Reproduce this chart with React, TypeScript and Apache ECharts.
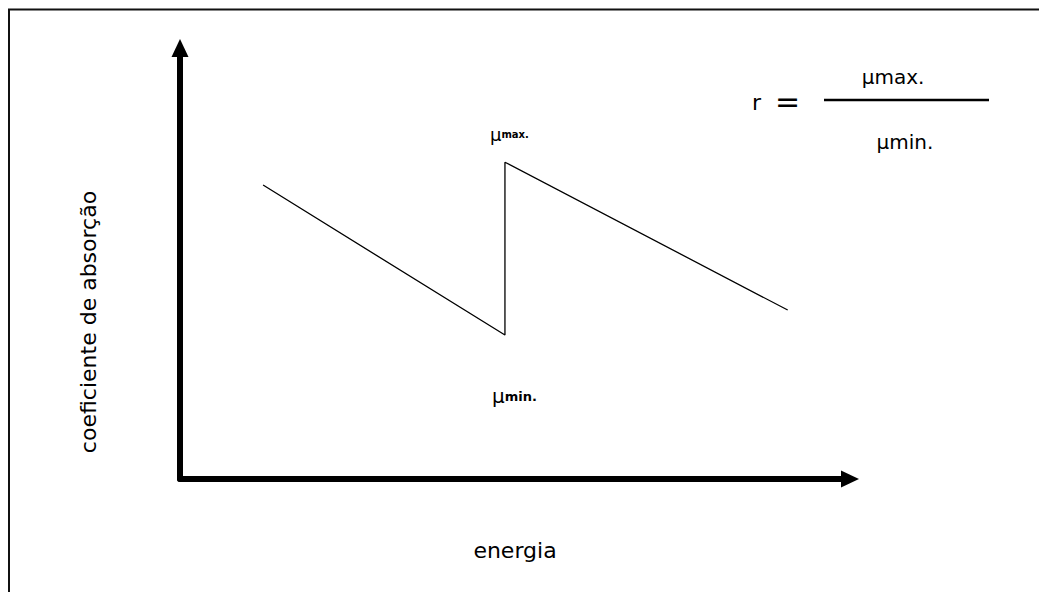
import React, { useEffect, useRef } from "react";
import * as echarts from "echarts";

// Data (axis units 0..100, no tick labels shown)
const energia = [12.4, 48.5, 48.5, 90.7];
const coeficiente = [68.2, 33.4, 73.5, 39.2];
const xAxisName = "energia";
const yAxisName = "coeficiente de absorção";
const formulaNumerator = "μmax.";
const formulaDenominator = "μmin.";

const FONT = "DejaVu Sans";

export default function App() {
  const ref = useRef<HTMLDivElement>(null);
  useEffect(() => {
    if (!ref.current) return;
    const chart = echarts.init(ref.current, null, { renderer: "svg" });
    const data = energia.map((x, i) => [x, coeficiente[i]]);
    chart.setOption({
      animation: false,
      backgroundColor: "#ffffff",
      grid: { left: 180, top: 48, width: 670, height: 431, containLabel: false },
      xAxis: {
        type: "value",
        min: 0,
        max: 100,
        name: xAxisName,
        nameLocation: "middle",
        nameGap: 60,
        nameTextStyle: { fontFamily: FONT, fontSize: 22, color: "#000" },
        axisLine: {
          show: true,
          symbol: ["none", "triangle"],
          symbolSize: [17, 18],
          lineStyle: { color: "#000", width: 6 },
        },
        axisTick: { show: false },
        axisLabel: { show: false },
        splitLine: { show: false },
      },
      yAxis: {
        type: "value",
        min: 0,
        max: 100,
        axisLine: {
          show: true,
          symbol: ["none", "triangle"],
          symbolSize: [17, 18],
          lineStyle: { color: "#000", width: 6 },
        },
        axisTick: { show: false },
        axisLabel: { show: false },
        splitLine: { show: false },
      },
      series: [
        {
          type: "line",
          data,
          showSymbol: false,
          symbol: "none",
          lineStyle: { color: "#000", width: 1.3 },
        },
      ],
      graphic: [
        // page border (top and left)
        { type: "line", shape: { x1: 8, y1: 9.5, x2: 1039, y2: 9.5 }, style: { stroke: "#111", lineWidth: 2 } },
        { type: "line", shape: { x1: 9, y1: 9, x2: 9, y2: 592 }, style: { stroke: "#111", lineWidth: 2 } },
        // y axis label
        {
          type: "text",
          x: 88,
          y: 322,
          rotation: Math.PI / 2,
          style: {
            text: yAxisName,
            fontFamily: FONT,
            fontSize: 22,
            fill: "#000",
            align: "center",
            verticalAlign: "middle",
          },
        },
        // μmax label
        {
          type: "text",
          x: 490,
          y: 143,
          style: {
            text: "{a|μ}{b|max.}",
            fontFamily: FONT,
            fill: "#000",
            verticalAlign: "bottom",
            rich: {
              a: { fontFamily: FONT, fontSize: 18, fill: "#000" },
              b: { fontFamily: FONT, fontSize: 10, fontWeight: "bold", fill: "#000" },
            },
          },
        },
        // μmin label
        {
          type: "text",
          x: 492,
          y: 406,
          style: {
            text: "{a|μ}{b|min.}",
            fontFamily: FONT,
            fill: "#000",
            verticalAlign: "bottom",
            rich: {
              a: { fontFamily: FONT, fontSize: 20, fill: "#000" },
              b: { fontFamily: FONT, fontSize: 13, fontWeight: "bold", fill: "#000" },
            },
          },
        },
        // formula r = μmax. / μmin.
        {
          type: "text",
          x: 752,
          y: 102,
          style: { text: "r", fontFamily: FONT, fontSize: 22, fill: "#000", verticalAlign: "middle" },
        },
        {
          type: "text",
          x: 775,
          y: 101,
          style: { text: "=", fontFamily: FONT, fontSize: 30, fill: "#000", verticalAlign: "middle" },
        },
        {
          type: "line",
          shape: { x1: 824, y1: 100, x2: 989, y2: 100 },
          style: { stroke: "#000", lineWidth: 2.5 },
        },
        {
          type: "text",
          x: 893,
          y: 77,
          style: {
            text: formulaNumerator,
            fontFamily: FONT,
            fontSize: 20,
            fill: "#000",
            align: "center",
            verticalAlign: "middle",
          },
        },
        {
          type: "text",
          x: 905,
          y: 142,
          style: {
            text: formulaDenominator,
            fontFamily: FONT,
            fontSize: 20,
            fill: "#000",
            align: "center",
            verticalAlign: "middle",
          },
        },
      ],
    });
    return () => chart.dispose();
  }, []);
  return (
    <div
      ref={ref}
      style={{ position: "absolute", left: 0, top: 0, width: 1039, height: 592 }}
    />
  );
}
